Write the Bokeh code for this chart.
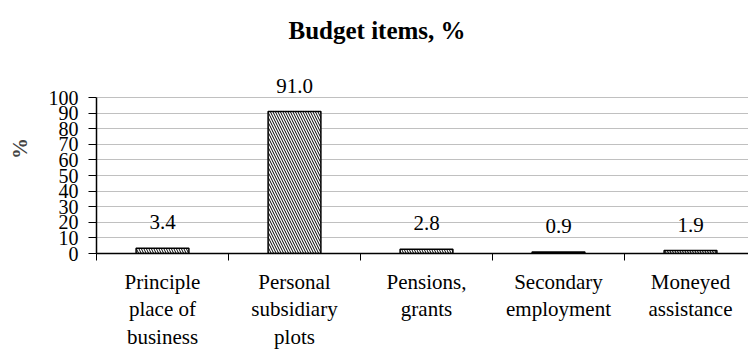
from bokeh.plotting import figure
from bokeh.models import (ColumnDataSource, FixedTicker, LinearAxis, LabelSet,
                          Range1d, Title)
from bokeh.core.properties import value
from bokeh.embed import file_html
from bokeh.resources import INLINE

categories = ["Principle\nplace of\nbusiness", "Personal\nsubsidiary\nplots",
              "Pensions,\ngrants", "Secondary\nemployment", "Moneyed\nassistance"]
values = [3.4, 91.0, 2.8, 0.9, 1.9]
y_ticks = [0, 10, 20, 30, 40, 50, 60, 70, 80, 90, 100]

FONT = "Liberation Serif"

centers = [i + 0.5 for i in range(len(categories))]
labels = ["%.1f" % v for v in values]
src = ColumnDataSource(dict(x=centers, top=values, lab=labels))

FRAME_TOP = 43
FRAME_BOTTOM = 253
p = figure(width=748, height=354, output_backend="svg", toolbar_location=None,
           x_range=Range1d(0, 652 / 132),
           y_range=Range1d(0, 100 * (FRAME_BOTTOM - FRAME_TOP) / 156),
           min_border_left=96, min_border_right=0, min_border_top=FRAME_TOP,
           min_border_bottom=354 - FRAME_BOTTOM)
p.outline_line_color = None
p.background_fill_color = "white"

t = Title(text="Budget items, %", align="left", offset=192, standoff=0,
          text_font=FONT, text_font_size="25px", text_font_style="bold",
          text_color="black")
p.add_layout(t, "above")

p.vbar(x="x", top="top", width=0.4, source=src, fill_color="white",
       line_color="black", line_width=1.5, hatch_pattern="\\",
       hatch_color="black", hatch_scale=5, hatch_weight=1)

ls = LabelSet(x="x", y="top", text="lab", source=src, text_align="center",
              text_baseline="bottom", y_offset=19, text_font=value(FONT),
              text_font_size=value("21px"), text_color="black")
p.add_layout(ls)

# y axis
p.yaxis.ticker = FixedTicker(ticks=y_ticks)
p.yaxis.bounds = (0, 100)
p.yaxis.axis_label = "%"
p.yaxis.axis_label_text_font = FONT
p.yaxis.axis_label_text_font_style = "bold"
p.yaxis.axis_label_text_font_size = "21px"
p.yaxis.major_label_text_font = FONT
p.yaxis.major_label_text_font_size = "20px"
p.yaxis.major_label_text_color = "black"
p.yaxis.axis_line_color = "black"
p.yaxis.axis_line_width = 1.5
p.yaxis.major_tick_line_color = "black"
p.yaxis.major_tick_out = 8
p.yaxis.major_tick_in = 0
p.yaxis.minor_tick_line_color = None
p.yaxis.major_label_standoff = 10
p.yaxis.axis_label_standoff = 14

p.ygrid.ticker = FixedTicker(ticks=y_ticks)
p.ygrid.grid_line_color = "#c0c0c0"
p.ygrid.grid_line_width = 1
p.xgrid.grid_line_color = None

# x axis: boundary ticks
bounds = list(range(len(categories)))
p.xaxis.ticker = FixedTicker(ticks=bounds)
p.xaxis.major_label_overrides = {b: "" for b in bounds}
p.xaxis.major_label_text_font_size = "1px"
p.xaxis.major_label_standoff = 0
p.xaxis.axis_line_color = "black"
p.xaxis.axis_line_width = 1.5
p.xaxis.major_tick_line_color = "black"
p.xaxis.major_tick_out = 7
p.xaxis.major_tick_in = 0
p.xaxis.minor_tick_line_color = None

# x axis: category labels
ax2 = LinearAxis(ticker=FixedTicker(ticks=centers),
                 major_label_overrides={c: lab for c, lab in zip(centers, categories)},
                 axis_line_color=None, major_tick_line_color=None,
                 minor_tick_line_color=None, major_label_standoff=3,
                 major_label_text_font=FONT, major_label_text_font_size="21px",
                 major_label_text_color="black", major_label_text_line_height=1.15)
p.add_layout(ax2, "below")

open("out.html", "w").write(file_html(p, INLINE))
